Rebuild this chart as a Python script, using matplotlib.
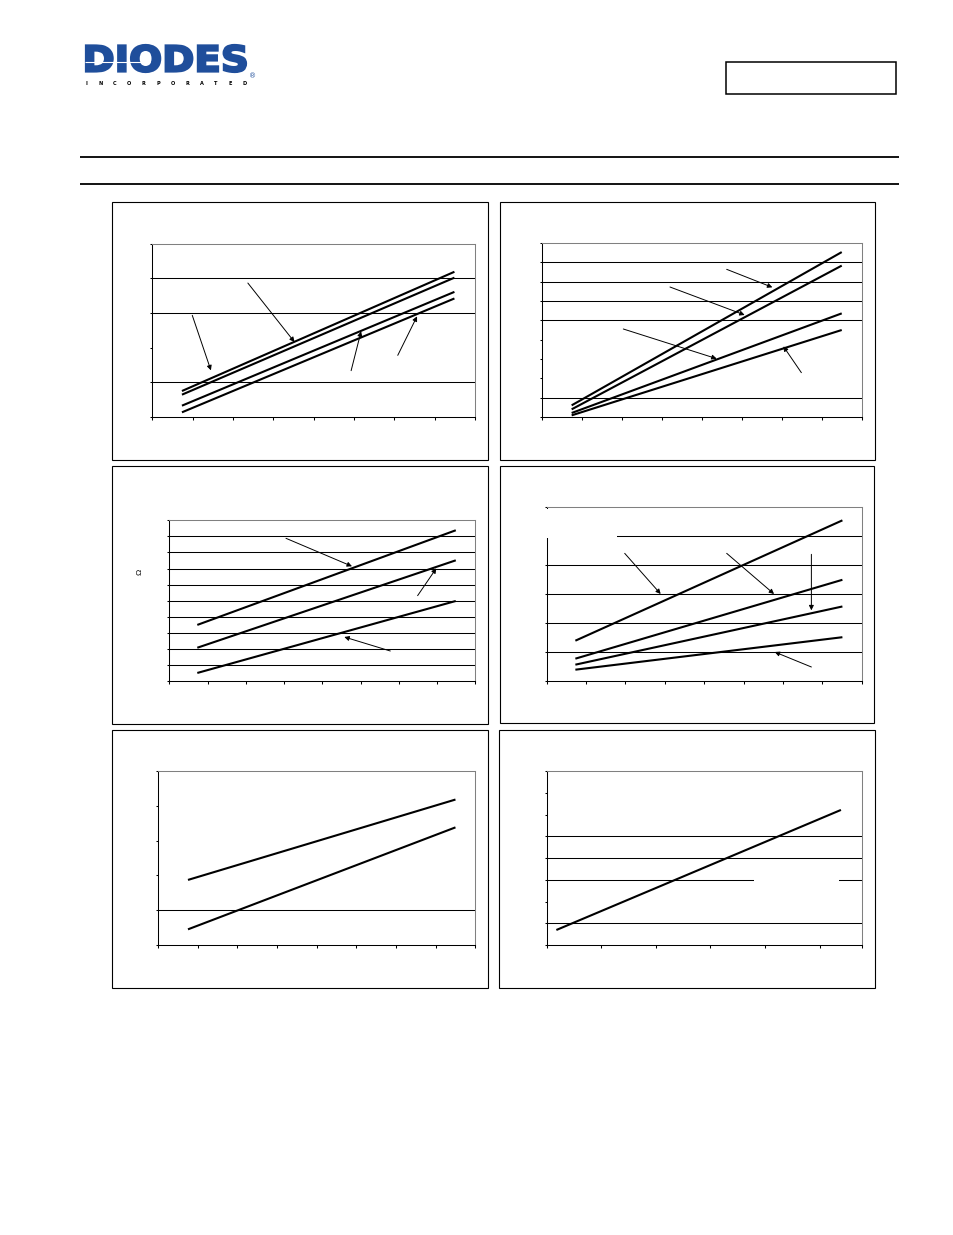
import matplotlib
matplotlib.use("Agg")
import matplotlib.pyplot as plt
from matplotlib.patches import Rectangle, PathPatch
from matplotlib.textpath import TextPath
from matplotlib.font_manager import FontProperties
from matplotlib.transforms import Affine2D

# ---------------- data ----------------
# chart 1 : four straight characteristics, x in tick units (0..8), y in grid units (0..5)
ch1_x = [0.735, 7.49]
ch1_a = [0.75, 4.19]
ch1_b = [0.644, 4.02]
ch1_c = [0.327, 3.61]
ch1_d = [0.135, 3.42]
ch1_grid = [1, 3, 4]
ch1_arrows = [((0.991, 2.933), (1.453, 1.346)), ((2.369, 3.865), (3.525, 2.163)),
              ((4.929, 1.337), (5.176, 2.471)), ((6.085, 1.779), (6.563, 2.904))]

# chart 2 : x 0..8, y 0..9
ch2_x = [0.735, 7.50]
ch2_a = [0.603, 8.53]
ch2_b = [0.397, 7.83]
ch2_c = [0.207, 5.36]
ch2_d = [0.086, 4.50]
ch2_grid = [1, 5, 6, 7, 8]
ch2_arrows = [((4.618, 7.638), (5.762, 6.707)), ((3.198, 6.724), (5.069, 5.276)),
              ((2.029, 4.552), (4.367, 3.017)), ((6.489, 2.293), (6.038, 3.655))]

# chart 3 : x 0..8, y 0..10
ch3_x = [0.732, 7.49]
ch3_a = [3.49, 9.38]
ch3_b = [2.07, 7.51]
ch3_c = [0.50, 4.98]
ch3_grid = [1, 2, 3, 4, 5, 6, 7, 8, 9]
ch3_arrows = [((3.050, 8.880), (4.776, 7.137)), ((6.492, 5.311), (6.980, 7.012)),
              ((5.778, 1.867), (4.575, 2.739))]

# chart 4 : x 0..8, y 0..6
ch4_x = [0.728, 7.51]
ch4_a = [1.39, 5.54]
ch4_b = [0.77, 3.49]
ch4_c = [0.563, 2.57]
ch4_d = [0.39, 1.51]
ch4_grid = [1, 2, 3, 4, 5]
ch4_arrows = [((1.981, 4.402), (2.895, 3.0)), ((4.571, 4.402), (5.774, 3.0)),
              ((6.722, 4.368), (6.722, 2.437)), ((6.722, 0.483), (5.791, 1.0))]

# chart 5 : x 0..8, y 0..5
ch5_x = [0.756, 7.50]
ch5_a = [1.87, 4.18]
ch5_b = [0.45, 3.38]
ch5_grid = [1]

# chart 6 : x 0..5.77, y 0..8
ch6_x = [0.177, 5.39]
ch6_a = [0.69, 6.21]
ch6_grid = [1, 3, 4, 5]
ch6_xticks = [0, 1, 2, 3, 4, 5, 5.77]

# ---------------- figure ----------------
W, H = 954, 1235
fig = plt.figure(figsize=(W / 100, H / 100), dpi=100)
page = fig.add_axes([0, 0, 1, 1])
page.set_xlim(0, W)
page.set_ylim(H, 0)
page.axis("off")

# logo
blue = "#1f4e9b"
tp = TextPath((0, 0), "DIODES", size=10,
              prop=FontProperties(family="DejaVu Sans", weight="bold"))
bb = tp.get_extents()
sx = (246 - 86) / bb.width
sy = (72 - 45) / bb.height
tr = Affine2D().translate(-bb.x0, -bb.y0).scale(sx, -sy).translate(86, 72) + page.transData
page.add_patch(PathPatch(tp, transform=tr, fc=blue, ec=blue, lw=1.6, joinstyle="miter"))
page.plot([85, 150], [61.5, 61.5], color="white", lw=0.8, solid_capstyle="butt")
page.text(252.5, 76.5, "\u00ae", color=blue, fontsize=5, ha="center", va="center")
for i, ch in enumerate("INCORPORATED"):
    page.text(86 + i * 14.45, 83.5, ch, fontsize=3.6, fontweight="bold",
              ha="center", va="center", color="black")

# header box and rules
page.add_patch(Rectangle((726, 62), 170, 32, fill=False, ec="black", lw=1.1))
page.plot([80, 899], [156.7, 156.7], color="black", lw=1.3, solid_capstyle="butt")
page.plot([80, 899], [184, 184], color="black", lw=1.3, solid_capstyle="butt")

# panel frames
frames = [(112, 202, 488, 460), (500, 202, 875, 460),
          (112, 466, 488, 724), (500, 466, 874, 723),
          (112, 730, 488, 988), (499, 730, 875, 988)]
for (l, t, r, b) in frames:
    page.add_patch(Rectangle((l, t), r - l, b - t, fill=False, ec="black", lw=0.8))

page.text(140, 572, "\u03a9", rotation=90, fontsize=6, family="Liberation Sans",
          ha="center", va="center")


def make_axes(l, t, r, b):
    return fig.add_axes([l / W, 1 - b / H, (r - l) / W, (b - t) / H])


def style(ax, xlim, ylim, xticks, yticks, grid):
    ax.set_xlim(*xlim)
    ax.set_ylim(*ylim)
    ax.set_xticks(xticks)
    ax.set_yticks(yticks)
    ax.set_facecolor("none")
    ax.tick_params(labelbottom=False, labelleft=False, direction="out",
                   width=0.75, color="black")
    ax.tick_params(axis="x", length=2.2)
    ax.tick_params(axis="y", length=1.6)
    for s in ax.spines.values():
        s.set_linewidth(0.75)
    ax.spines["top"].set_color("#808080")
    ax.spines["right"].set_color("#808080")
    for g in grid:
        ax.axhline(g, color="black", lw=0.75, zorder=1)


def draw_lines(ax, x, series):
    for ys in series:
        ax.plot(x, ys, color="black", lw=1.5, zorder=4, solid_capstyle="butt")


def draw_arrows(ax, arrows):
    for tail, head in arrows:
        ax.annotate("", xy=head, xytext=tail, annotation_clip=False,
                    arrowprops=dict(arrowstyle="-|>", lw=0.7, color="black",
                                    mutation_scale=7, shrinkA=0, shrinkB=0),
                    zorder=5)


# chart 1
ax1 = make_axes(152.3, 243.7, 475, 417)
style(ax1, (0, 8), (0, 5), range(9), range(6), ch1_grid)
draw_lines(ax1, ch1_x, [ch1_a, ch1_b, ch1_c, ch1_d])
draw_arrows(ax1, ch1_arrows)

# chart 2
ax2 = make_axes(542.3, 243, 861.7, 417)
style(ax2, (0, 8), (0, 9), range(9), range(10), ch2_grid)
draw_lines(ax2, ch2_x, [ch2_a, ch2_b, ch2_c, ch2_d])
draw_arrows(ax2, ch2_arrows)

# chart 3
ax3 = make_axes(169.3, 520.3, 475.3, 681)
style(ax3, (0, 8), (0, 10), range(9), range(11), ch3_grid)
draw_lines(ax3, ch3_x, [ch3_a, ch3_b, ch3_c])
draw_arrows(ax3, ch3_arrows)

# chart 4
ax4 = make_axes(546.7, 507, 861.7, 681)
style(ax4, (0, 8), (0, 6), range(9), range(7), ch4_grid)
draw_lines(ax4, ch4_x, [ch4_a, ch4_b, ch4_c, ch4_d])
draw_arrows(ax4, ch4_arrows)
ax4.add_patch(Rectangle((-0.3, 4.93), 2.085, 1.0, fc="white", ec="none",
                        zorder=3, clip_on=False))

# chart 5
ax5 = make_axes(158, 771, 475.3, 945)
style(ax5, (0, 8), (0, 5), range(9), range(6), ch5_grid)
draw_lines(ax5, ch5_x, [ch5_a, ch5_b])

# chart 6
ax6 = make_axes(546.7, 771, 861.7, 945)
style(ax6, (0, 5.77), (0, 8), ch6_xticks, range(9), ch6_grid)
draw_lines(ax6, ch6_x, [ch6_a])
ax6.add_patch(Rectangle((3.80, 2.85), 1.56, 0.3, fc="white", ec="none", zorder=2))

fig.savefig("out.png", dpi=100)
